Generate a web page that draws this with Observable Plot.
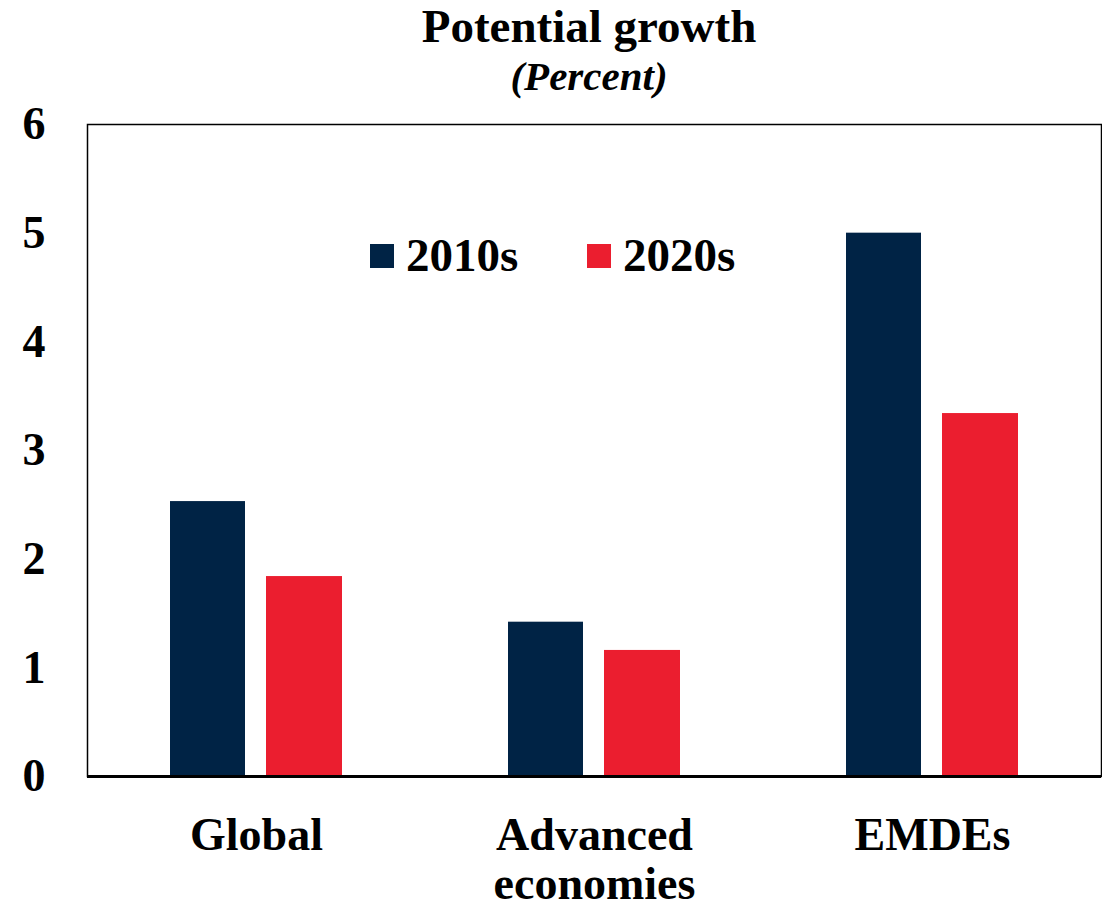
<!DOCTYPE html>
<html>
<head>
<meta charset="utf-8">
<script src="https://cdn.jsdelivr.net/npm/d3@7"></script>
<script src="https://cdn.jsdelivr.net/npm/@observablehq/plot@0.6"></script>
<style>
  html, body { margin: 0; padding: 0; background: #fff; }
  #wrap { position: relative; width: 1102px; height: 908px; font-family: "Liberation Serif", "Times New Roman", serif; font-weight: bold; color: #000; }
  #header { position: relative; height: 110px; }
  .title { position: absolute; left: 589px; transform: translateX(-50%); white-space: nowrap; }
  #t1 { top: 3px; font-size: 47px; line-height: 47px; }
  #t2 { top: 56px; font-size: 41px; line-height: 41px; font-style: italic; }
  .leg { position: absolute; display: flex; align-items: center; font-size: 47px; line-height: 47px; white-space: nowrap; }
  .sw { width: 24px; height: 24px; margin-right: 12px; }
  #chart svg { overflow: visible; display: block; }
</style>
</head>
<body>
<div id="wrap">
  <div id="header">
    <div class="title" id="t1">Potential growth</div>
    <div class="title" id="t2">(Percent)</div>
  </div>
  <div id="chart"></div>
  <div id="legend"></div>
</div>
<script>
const categories = ["Global", "Advanced economies", "EMDEs"];
const tickLabels = ["Global", "Advanced\neconomies", "EMDEs"];
const series = ["2010s", "2020s"];
const values2010s = [2.53, 1.42, 5.0];
const values2020s = [1.84, 1.16, 3.34];
const colors = ["#002345", "#EB1E2F"];
const yTicks = [0, 1, 2, 3, 4, 5, 6];

const d2010 = categories.map((c, i) => ({category: c, value: values2010s[i]}));
const d2020 = categories.map((c, i) => ({category: c, value: values2020s[i]}));

const font = '"Liberation Serif", "Times New Roman", serif';

const plot = Plot.plot({
  width: 1102,
  height: 798,
  marginLeft: 87,
  marginRight: 1,
  marginTop: 14,
  marginBottom: 132,
  style: {fontFamily: font, fontWeight: "bold", background: "#fff", color: "#000", overflow: "visible"},
  x: {type: "band", domain: categories, padding: 0, label: null},
  y: {domain: [0, 6], label: null},
  marks: [
    Plot.barY(d2010, {x: "category", y: "value", fill: colors[0], insetLeft: 83, insetRight: 180}),
    Plot.barY(d2020, {x: "category", y: "value", fill: colors[1], insetLeft: 179, insetRight: 83}),
    Plot.frame({stroke: "#000", strokeWidth: 1.5}),
    Plot.ruleY([0], {stroke: "#000", strokeWidth: 3}),
    Plot.axisY({ticks: yTicks, tickSize: 0, tickPadding: 42, fontSize: 46, tickFormat: d => String(d), label: null}),
    Plot.axisX({tickSize: 0, tickPadding: 38, fontSize: 46, lineHeight: 1.08,
      tickFormat: d => tickLabels[categories.indexOf(d)], label: null})
  ]
});
plot.style.fontWeight = "bold";
plot.style.overflow = "visible";
document.getElementById("chart").appendChild(plot);

// Legend (inside the plot area, as an HTML overlay)
const legend = document.getElementById("legend");
const legendPos = [{left: 370, top: 232}, {left: 587, top: 232}];
series.forEach((s, i) => {
  const item = document.createElement("div");
  item.className = "leg";
  item.style.left = legendPos[i].left + "px";
  item.style.top = legendPos[i].top + "px";
  const sw = document.createElement("div");
  sw.className = "sw";
  sw.style.background = colors[i];
  const tx = document.createElement("span");
  tx.textContent = s;
  item.appendChild(sw);
  item.appendChild(tx);
  legend.appendChild(item);
});
</script>
</body>
</html>
